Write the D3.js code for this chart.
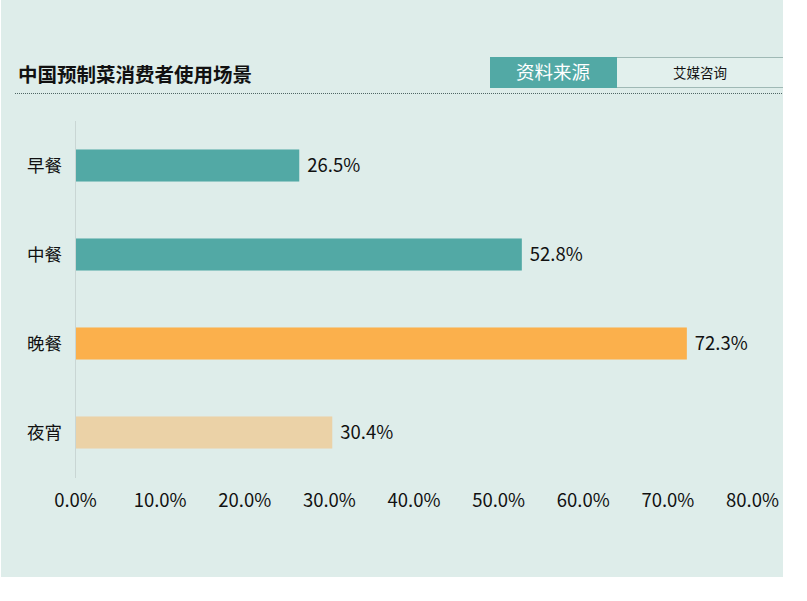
<!DOCTYPE html>
<html>
<head>
<meta charset="utf-8">
<script src="https://cdn.jsdelivr.net/npm/d3@7"></script>
<style>
  body { margin: 0; background: #fff; }
  svg { display: block; font-family: "Noto Sans CJK SC", "Noto Sans", sans-serif; }
</style>
</head>
<body>
<svg id="chart" width="807" height="601"></svg>
<script>
const categories = ["早餐", "中餐", "晚餐", "夜宵"];
const values = [26.5, 52.8, 72.3, 30.4];
const barColors = ["#52a9a5", "#52a9a5", "#fbb04c", "#ebd2a7"];
const ticks = [0, 10, 20, 30, 40, 50, 60, 70, 80];
const title = "中国预制菜消费者使用场景";
const sourceLabel = "资料来源";
const sourceName = "艾媒咨询";

const svg = d3.select("#chart");

// background panel
svg.append("rect")
  .attr("x", 1).attr("y", 0)
  .attr("width", 782).attr("height", 577)
  .attr("fill", "#deedea");

// title
svg.append("text")
  .attr("x", 18).attr("y", 82)
  .attr("font-size", 19.5).attr("font-weight", 700)
  .attr("fill", "#111")
  .text(title);

// dotted rule
svg.append("line")
  .attr("x1", 15).attr("x2", 783)
  .attr("y1", 93.5).attr("y2", 93.5)
  .attr("stroke", "#4f6664").attr("stroke-width", 1)
  .attr("stroke-dasharray", "1,1");

// source boxes
svg.append("rect")
  .attr("x", 490).attr("y", 57)
  .attr("width", 293).attr("height", 31)
  .attr("fill", "#e2f0ed");
svg.append("path")
  .attr("d", "M616.5,88 V57.5 H783 M616.5,87.5 H783")
  .attr("fill", "none")
  .attr("stroke", "#9fb9b5");
svg.append("rect")
  .attr("x", 490).attr("y", 57)
  .attr("width", 127).attr("height", 31)
  .attr("fill", "#52a9a5");
svg.append("text")
  .attr("x", 553).attr("y", 79)
  .attr("text-anchor", "middle")
  .attr("font-size", 18.5).attr("fill", "#fff")
  .text(sourceLabel);
svg.append("text")
  .attr("x", 700).attr("y", 78)
  .attr("text-anchor", "middle")
  .attr("font-size", 13.5).attr("fill", "#111")
  .text(sourceName);

const x = d3.scaleLinear().domain([0, 80]).range([75, 752]);
const y = d3.scaleBand().domain(categories).range([121, 477]).paddingInner(0.64).paddingOuter(0.32);

// vertical axis line
svg.append("line")
  .attr("x1", 75.5).attr("x2", 75.5)
  .attr("y1", 121).attr("y2", 478)
  .attr("stroke", "#c9d6d4");

svg.append("g").selectAll("rect")
  .data(values)
  .join("rect")
  .attr("x", x(0) + 1)
  .attr("y", (d, i) => y(categories[i]))
  .attr("width", d => x(d) - x(0) - 1)
  .attr("height", y.bandwidth())
  .attr("fill", (d, i) => barColors[i]);

svg.append("g").selectAll("text")
  .data(values)
  .join("text")
  .attr("x", d => x(d) + 8)
  .attr("y", (d, i) => y(categories[i]) + y.bandwidth() / 2)
  .attr("dy", "0.35em")
  .attr("font-size", 18.5).attr("fill", "#111")
  .text(d => d.toFixed(1) + "%");

svg.append("g").selectAll("text")
  .data(categories)
  .join("text")
  .attr("x", 62)
  .attr("y", d => y(d) + y.bandwidth() / 2)
  .attr("dy", "0.35em")
  .attr("text-anchor", "end")
  .attr("font-size", 17.5).attr("fill", "#111")
  .text(d => d);

// x axis labels
const xAxis = d3.axisBottom(x).tickValues(ticks).tickSize(0).tickPadding(0)
  .tickFormat(d => d.toFixed(1) + "%");
const gx = svg.append("g").attr("transform", "translate(0,496)").call(xAxis);
gx.select(".domain").remove();
gx.selectAll("text")
  .attr("font-size", 18.5).attr("fill", "#111")
  .attr("font-family", "\"Noto Sans CJK SC\", sans-serif")
  .attr("dy", "0.35em").attr("y", 5);
</script>
</body>
</html>
